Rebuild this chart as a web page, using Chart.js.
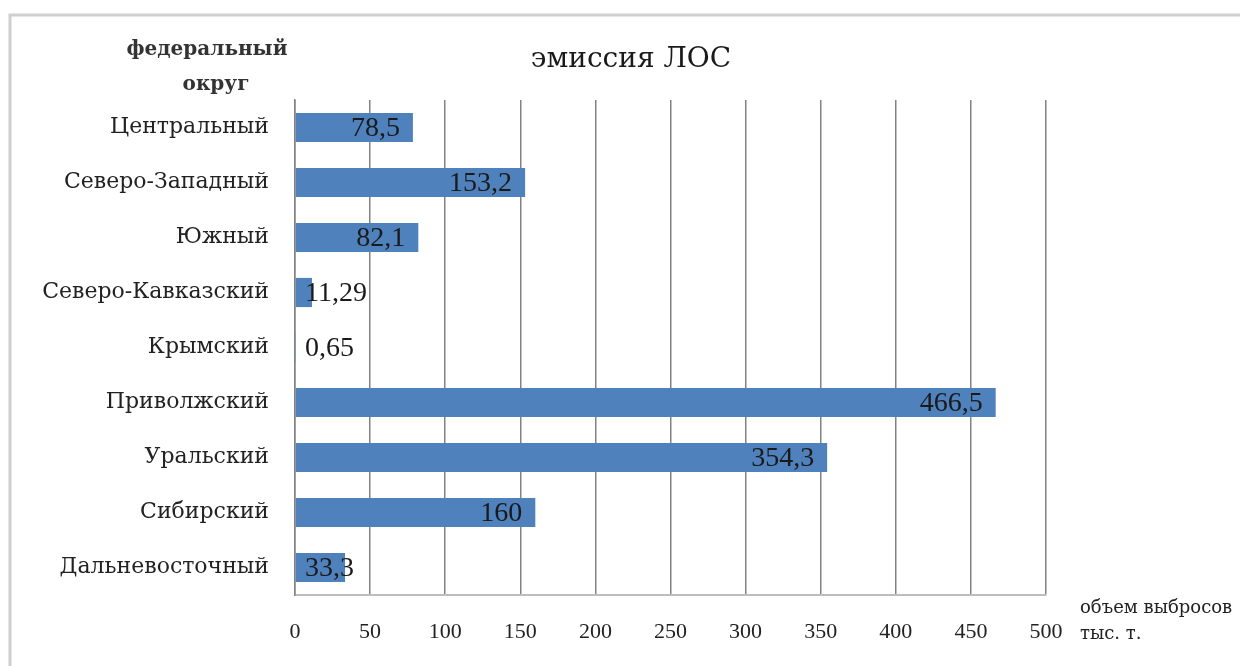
<!DOCTYPE html>
<html>
<head>
<meta charset="utf-8">
<script src="https://cdn.jsdelivr.net/npm/chart.js@4.4.0/dist/chart.umd.min.js"></script>
<style>
  html, body { margin: 0; padding: 0; background: #fff; }
  #wrap { width: 1240px; height: 666px; }
</style>
</head>
<body>
<div id="wrap"><canvas id="myChart" width="1240" height="666"></canvas></div>
<script>
const labels = ['Центральный', 'Северо-Западный', 'Южный', 'Северо-Кавказский', 'Крымский', 'Приволжский', 'Уральский', 'Сибирский', 'Дальневосточный'];
const values = [78.5, 153.2, 82.1, 11.29, 0.65, 466.5, 354.3, 160, 33.3];
const valueLabels = ['78,5', '153,2', '82,1', '11,29', '0,65', '466,5', '354,3', '160', '33,3'];
const xTicks = [0, 50, 100, 150, 200, 250, 300, 350, 400, 450, 500];

const serif = '"Liberation Serif", "DejaVu Serif", serif';
const wide = '"DejaVu Serif", serif';

// рамка, заголовок, подписи осей и значения
const extras = {
    id: 'extras',
    beforeDraw(chart) {
        const ctx = chart.ctx;
        ctx.save();
        ctx.fillStyle = '#fff';
        ctx.fillRect(0, 0, chart.width, chart.height);
        ctx.strokeStyle = '#cfcfcf';
        ctx.lineWidth = 3;
        ctx.strokeRect(10, 15, 1300, 700);
        ctx.restore();
    },
    afterDatasetsDraw(chart) {
        const ctx = chart.ctx;
        const area = chart.chartArea;
        const meta = chart.getDatasetMeta(0);
        ctx.save();
        ctx.font = '28px ' + serif;
        ctx.fillStyle = '#1a1a1a';
        ctx.textAlign = 'right';
        ctx.textBaseline = 'middle';
        meta.data.forEach((bar, i) => {
            const txt = valueLabels[i];
            const w = ctx.measureText(txt).width;
            const right = Math.max(bar.x - 13, area.left + 10 + w);
            ctx.fillText(txt, right, bar.y + 1);
        });

        ctx.textAlign = 'center';
        ctx.font = '28px ' + wide;
        ctx.fillStyle = '#1a1a1a';
        ctx.fillText('эмиссия ЛОС', 631, 60);

        ctx.font = 'bold 20px ' + wide;
        ctx.fillStyle = '#333';
        ctx.fillText('федеральный', 207, 50);
        ctx.fillText('округ', 216, 85);

        ctx.textAlign = 'left';
        ctx.font = '18px ' + wide;
        ctx.fillStyle = '#222';
        ctx.fillText('объем выбросов', 1080, 608);
        ctx.fillText('тыс. т.', 1080, 634);
        ctx.restore();
    }
};

const data = {
    labels: labels,
    datasets: [{
        data: values,
        backgroundColor: '#4F81BD',
        borderWidth: 0,
        barPercentage: 0.53,
        categoryPercentage: 1
    }]
};

const config = {
    type: 'bar',
    data: data,
    options: {
        indexAxis: 'y',
        responsive: false,
        animation: false,
        layout: {
            padding: { left: 0, right: 194, top: 100, bottom: 0 }
        },
        plugins: {
            legend: { display: false },
            tooltip: { enabled: false },
            title: { display: false }
        },
        scales: {
            x: {
                min: 0,
                max: 500,
                afterBuildTicks(scale) {
                    scale.ticks = xTicks.map(v => ({ value: v }));
                },
                afterFit(scale) { scale.height = 71; },
                grid: {
                    color: '#828282',
                    lineWidth: 1.5,
                    drawTicks: false
                },
                border: { display: true, color: '#bdbdbd', width: 2 },
                ticks: {
                    color: '#222',
                    padding: 24,
                    font: { family: serif, size: 22 }
                }
            },
            y: {
                afterFit(scale) { scale.width = 295; },
                grid: { display: false, drawTicks: false },
                border: { display: true, color: '#828282', width: 1.5 },
                ticks: {
                    color: '#222',
                    padding: 26,
                    font: { family: wide, size: 22 }
                }
            }
        }
    },
    plugins: [extras]
};

const myChart = new Chart(document.getElementById('myChart'), config);
</script>
</body>
</html>
